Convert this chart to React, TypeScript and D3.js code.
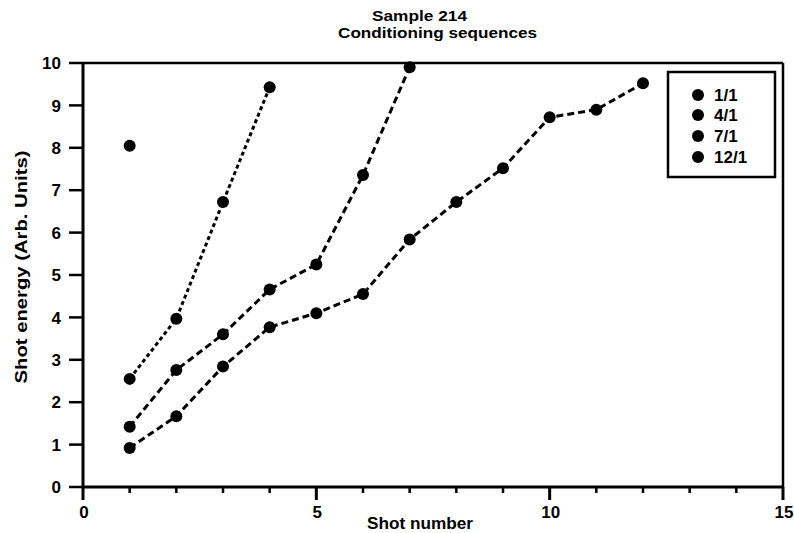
import React from "react";
import * as d3 from "d3";

const seriesNames = ["1/1", "4/1", "7/1", "12/1"];
const shots1 = [1];
const energy1 = [8.05];
const shots4 = [1, 2, 3, 4];
const energy4 = [2.55, 3.97, 6.72, 9.43];
const shots7 = [1, 2, 3, 4, 5, 6, 7];
const energy7 = [1.42, 2.76, 3.6, 4.66, 5.25, 7.36, 9.9];
const shots12 = [1, 2, 3, 4, 5, 6, 7, 8, 9, 10, 11, 12];
const energy12 = [0.92, 1.67, 2.84, 3.77, 4.1, 4.55, 5.84, 6.72, 7.52, 8.72, 8.9, 9.52];
const xTicks = [0, 5, 10, 15];
const xMinorTicks = [1, 2, 3, 4, 6, 7, 8, 9, 11, 12, 13, 14];
const yTicks = [0, 1, 2, 3, 4, 5, 6, 7, 8, 9, 10];

const W = 794;
const H = 533;
const FONT = "'Liberation Sans', Arial, Helvetica, sans-serif";

export default function App() {
  const x = d3.scaleLinear().domain([0, 15]).range([83, 783]);
  const y = d3.scaleLinear().domain([0, 10]).range([487, 63]);
  const line = d3
    .line<[number, number]>()
    .x((d) => x(d[0]))
    .y((d) => y(d[1]));

  const series = [
    { name: seriesNames[0], xs: shots1, ys: energy1, dash: "" },
    { name: seriesNames[1], xs: shots4, ys: energy4, dash: "4,3" },
    { name: seriesNames[2], xs: shots7, ys: energy7, dash: "7,4" },
    { name: seriesNames[3], xs: shots12, ys: energy12, dash: "7,4" },
  ].map((s) => ({ ...s, pts: s.xs.map((v, i) => [v, s.ys[i]] as [number, number]) }));

  const legendY = [95, 115, 136, 157];

  return (
    <svg
      width={W}
      height={H}
      style={{ position: "absolute", left: 0, top: 0, background: "#fff" }}
      fontFamily={FONT}
      fontWeight="bold"
    >
      <rect x={0} y={0} width={W} height={H} fill="#fff" />
      {/* Title */}
      <text x={419.5} y={20.5} textAnchor="middle" fontSize={15.5} textLength={95} lengthAdjust="spacingAndGlyphs" fill="#000">
        Sample 214
      </text>
      <text x={437.5} y={38} textAnchor="middle" fontSize={15.5} textLength={199} lengthAdjust="spacingAndGlyphs" fill="#000">
        Conditioning sequences
      </text>

      {/* Frame */}
      <line x1={x(0)} x2={x(15)} y1={y(10)} y2={y(10)} stroke="#000" strokeWidth={2.5} />
      <line x1={x(15)} x2={x(15)} y1={y(10)} y2={y(0)} stroke="#000" strokeWidth={2.5} />
      <line x1={x(0)} x2={x(15)} y1={y(0)} y2={y(0)} stroke="#000" strokeWidth={3} />
      <line x1={x(0)} x2={x(0)} y1={y(10) - 1} y2={y(0) + 1} stroke="#000" strokeWidth={3} />

      {/* Y ticks */}
      {yTicks.map((t) => (
        <g key={"y" + t}>
          <line x1={69} x2={x(0)} y1={y(t)} y2={y(t)} stroke="#000" strokeWidth={2.5} />
          <text x={61} y={y(t)} dy="0.36em" textAnchor="end" fontSize={17} fill="#000">
            {t}
          </text>
        </g>
      ))}

      {/* X ticks */}
      {xTicks.map((t) => (
        <g key={"x" + t}>
          <line x1={x(t)} x2={x(t)} y1={y(0)} y2={y(0) + 13} stroke="#000" strokeWidth={3} />
          <text x={x(t) + 1} y={518} textAnchor="middle" fontSize={17} fill="#000">
            {t}
          </text>
        </g>
      ))}
      {xMinorTicks.map((t) => (
        <line key={"xm" + t} x1={x(t)} x2={x(t)} y1={y(0)} y2={y(0) + 6} stroke="#000" strokeWidth={2.5} />
      ))}

      {/* Axis titles */}
      <text x={420} y={529} textAnchor="middle" fontSize={17} textLength={106} lengthAdjust="spacingAndGlyphs" fill="#000">
        Shot number
      </text>
      <text
        transform={`translate(27, ${267}) rotate(-90)`}
        textAnchor="middle"
        fontSize={17}
        textLength={233}
        lengthAdjust="spacingAndGlyphs"
        fill="#000"
      >
        Shot energy (Arb. Units)
      </text>

      {/* Series */}
      {series.map((s) => (
        <g key={s.name}>
          {s.pts.length > 1 && (
            <path
              d={line(s.pts) || ""}
              fill="none"
              stroke="#000"
              strokeWidth={3}
              strokeDasharray={s.dash}
              strokeLinecap="butt"
            />
          )}
          {s.pts.map((p, i) => (
            <circle key={i} cx={x(p[0])} cy={y(p[1])} r={6} fill="#000" />
          ))}
        </g>
      ))}

      {/* Legend */}
      <rect x={668} y={72} width={107} height={105} fill="#fff" stroke="#000" strokeWidth={2.5} />
      {series.map((s, i) => (
        <g key={"lg" + s.name}>
          <circle cx={698} cy={legendY[i]} r={6} fill="#000" />
          <text x={714} y={legendY[i]} dy="0.36em" fontSize={17} fill="#000">
            {s.name}
          </text>
        </g>
      ))}
    </svg>
  );
}
